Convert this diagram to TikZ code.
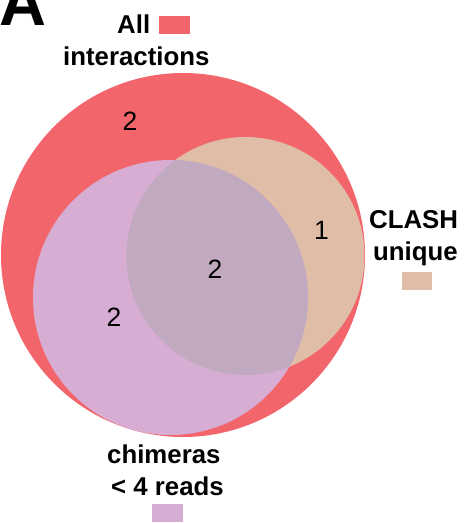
\documentclass[tikz,border=0pt]{standalone}
\usepackage{fontspec}
\setmainfont{Liberation Sans}
\definecolor{allred}{HTML}{F2666B}
\definecolor{clashtan}{HTML}{E0BDA6}
\definecolor{chimlilac}{HTML}{D7ADD4}
\definecolor{bothmix}{HTML}{C1AAC0}
\begin{document}
\begin{tikzpicture}[x=1pt,y=-1pt,
  lbl/.style={inner sep=0pt,anchor=base west,font=\fontsize{25.8}{30}\bfseries\selectfont},
  num/.style={inner sep=0pt,font=\fontsize{26.5}{30}\selectfont}]
\useasboundingbox (0,0) rectangle (464,523);
\clip (0,0) rectangle (464,523);
% set centres
\coordinate (cAll) at (183,255);
\coordinate (cClash) at (245.5,256);
\coordinate (cChim) at (170.5,297.5);
% circles
\fill[allred] (cAll) circle (182);
\fill[clashtan] (cClash) circle (119);
\fill[chimlilac] (cChim) circle (137.5);
\begin{scope}
  \clip (cClash) circle (119);
  \fill[bothmix] (cChim) circle (137.5);
\end{scope}
% panel letter
\node[inner sep=0pt,anchor=base west,font=\fontsize{65}{70}\bfseries\selectfont] (panel) at (-1,25) {A};
% labels
\node[lbl] (allA) at (117,33) {All};
\node[lbl] (allB) at (63,65) {interactions};
\node[lbl] (clashA) at (369,228) {CLASH};
\node[lbl] (clashB) at (373,260) {unique};
\node[lbl] (chimA) at (107,463) {chimeras};
\node[lbl] (chimB) at (111,495) {< 4 reads};
% legend keys
\fill[allred] (159,16) rectangle (190,34);
\fill[clashtan] (402,272) rectangle (432,290);
\fill[chimlilac] (152,504) rectangle (183,522);
% counts
\node[num] (nAll) at (130,121) {2};
\node[num] (nClash) at (321.5,230) {1};
\node[num] (nBoth) at (215,269.5) {2};
\node[num] (nChim) at (114,317.5) {2};
\end{tikzpicture}
\end{document}
